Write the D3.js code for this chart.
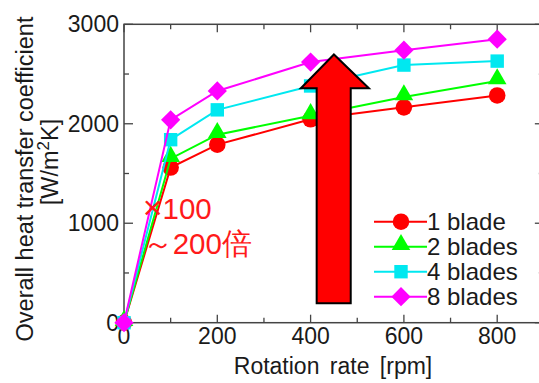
<!DOCTYPE html>
<html>
<head>
<meta charset="utf-8">
<script src="https://cdn.jsdelivr.net/npm/d3@7"></script>
<style>
  body { margin: 0; background: #fff; }
  text { font-family: "Liberation Sans", Arial, sans-serif; fill: #1a1a1a; }
</style>
</head>
<body>
<svg id="chart" width="539" height="383"></svg>
<script>
// data
const rpm = [0, 100, 200, 400, 600, 800];
const seriesNames = ["1 blade", "2 blades", "4 blades", "8 blades"];
const oneBlade = [0, 1560, 1790, 2045, 2165, 2285];
const twoBlades = [0, 1650, 1890, 2080, 2270, 2430];
const fourBlades = [0, 1840, 2140, 2380, 2590, 2630];
const eightBlades = [0, 2040, 2330, 2620, 2740, 2850];
const colors = ["#ff0000", "#00ff00", "#00e8f0", "#ff00ff"];
const xTicks = [0, 200, 400, 600, 800];
const yTicks = [0, 1000, 2000, 3000];

const svg = d3.select("#chart");

// plot area
const plotL = 124, plotT = 24.3, plotB = 322.7;
const x = d3.scaleLinear().domain([0, 900]).range([plotL, plotL + 4.5 * 93.3]);
const y = d3.scaleLinear().domain([0, 3000]).range([plotB, plotT]);
const plotR = x(900);

const axisCol = "#444";
// frame
svg.append("rect")
  .attr("x", plotL).attr("y", plotT)
  .attr("width", plotR - plotL).attr("height", plotB - plotT)
  .attr("fill", "none").attr("stroke", axisCol).attr("stroke-width", 1.5);

// ticks (inward) on all four sides
const g = svg.append("g").attr("stroke", axisCol).attr("stroke-width", 1.3);
d3.range(0, 901, 100).forEach(v => {
  const len = v % 200 === 0 ? 8 : 5;
  g.append("line").attr("x1", x(v)).attr("x2", x(v)).attr("y1", plotB).attr("y2", plotB - len);
  g.append("line").attr("x1", x(v)).attr("x2", x(v)).attr("y1", plotT).attr("y2", plotT + len);
});
d3.range(0, 3001, 500).forEach(v => {
  const len = v % 1000 === 0 ? 9 : 5;
  g.append("line").attr("y1", y(v)).attr("y2", y(v)).attr("x1", plotL).attr("x2", plotL + len);
  g.append("line").attr("y1", y(v)).attr("y2", y(v)).attr("x1", plotR).attr("x2", plotR - len);
});

// tick labels
svg.selectAll("text.xt").data(xTicks).enter().append("text")
  .attr("class", "xt")
  .attr("x", d => x(d)).attr("y", 344)
  .attr("text-anchor", "middle").attr("font-size", 23)
  .text(d => d);
svg.selectAll("text.yt").data(yTicks).enter().append("text")
  .attr("class", "yt")
  .attr("x", 119).attr("y", d => y(d) + 8)
  .attr("text-anchor", "end").attr("font-size", 23)
  .text(d => d);

// axis titles
svg.append("text")
  .attr("x", 333).attr("y", 374)
  .attr("text-anchor", "middle").attr("font-size", 23)
  .attr("word-spacing", 4)
  .text("Rotation rate [rpm]");
svg.append("text")
  .attr("transform", "translate(33,179) rotate(-90)")
  .attr("text-anchor", "middle").attr("font-size", 23.5)
  .text("Overall heat transfer coefficient");
const yl2 = svg.append("text")
  .attr("transform", "translate(58,162) rotate(-90)")
  .attr("text-anchor", "middle").attr("font-size", 23.5);
yl2.append("tspan").text("[W/m");
yl2.append("tspan").attr("dy", -9).attr("font-size", 17).text("2");
yl2.append("tspan").attr("dy", 9).text("K]");

// series
const allSeries = [oneBlade, twoBlades, fourBlades, eightBlades];
const shapes = [d3.symbolCircle, d3.symbolTriangle, d3.symbolSquare, d3.symbolSquare];
const sizes = [215, 150, 180, 185];
const rot = [0, 0, 0, 45];
const dyOff = [0, -2, 0, 0];
const line = d3.line().x((d, i) => x(rpm[i])).y(d => y(d));

allSeries.forEach((vals, s) => {
  svg.append("path").datum(vals)
    .attr("d", line)
    .attr("fill", "none").attr("stroke", colors[s]).attr("stroke-width", 2);
  svg.selectAll("path.m" + s).data(vals).enter().append("path")
    .attr("class", "m" + s)
    .attr("transform", (d, i) => `translate(${x(rpm[i])},${y(d) + dyOff[s]}) rotate(${rot[s]})`)
    .attr("d", d3.symbol().type(shapes[s]).size(sizes[s]))
    .attr("fill", colors[s]);
});

// big red arrow (data units)
const ax = [413, 486, 379, 525, 450];
const ay = [195, 2356, 2697];
const arrowPts = [
  [x(ax[0]), y(ay[0])], [x(ax[0]), y(ay[1])], [x(ax[2]), y(ay[1])],
  [x(ax[4]), y(ay[2])],
  [x(ax[3]), y(ay[1])], [x(ax[1]), y(ay[1])], [x(ax[1]), y(ay[0])]
];
svg.append("path")
  .attr("d", d3.line()(arrowPts) + "Z")
  .attr("fill", "#ff0000").attr("stroke", "#000").attr("stroke-width", 2)
  .attr("stroke-linejoin", "miter");

// annotation
const ann = svg.append("g").attr("font-size", 29.5)
  .style("font-family", "'Liberation Sans', 'Noto Sans CJK JP', sans-serif");
const a1 = ann.append("text").attr("x", x(40)).attr("y", y(1040)).style("fill", "#ff1a1a");
a1.append("tspan").attr("font-size", 34).text("×");
a1.append("tspan").text("100");
ann.append("text").attr("x", x(40)).attr("y", y(690)).style("fill", "#ff1a1a").text("～200倍");

// legend
const legY = [221.7, 246.7, 271.7, 296.7];
seriesNames.forEach((name, s) => {
  const lg = svg.append("g").attr("transform", `translate(0,${legY[s]})`);
  lg.append("line").attr("x1", 374).attr("x2", 427).attr("y1", 0).attr("y2", 0)
    .attr("stroke", colors[s]).attr("stroke-width", 2);
  lg.append("path").attr("transform", `translate(401,${dyOff[s]}) rotate(${rot[s]})`)
    .attr("d", d3.symbol().type(shapes[s]).size(sizes[s]))
    .attr("fill", colors[s]);
  lg.append("text").attr("x", 427).attr("y", 8.5).attr("font-size", 24).text(name);
});
</script>
</body>
</html>
